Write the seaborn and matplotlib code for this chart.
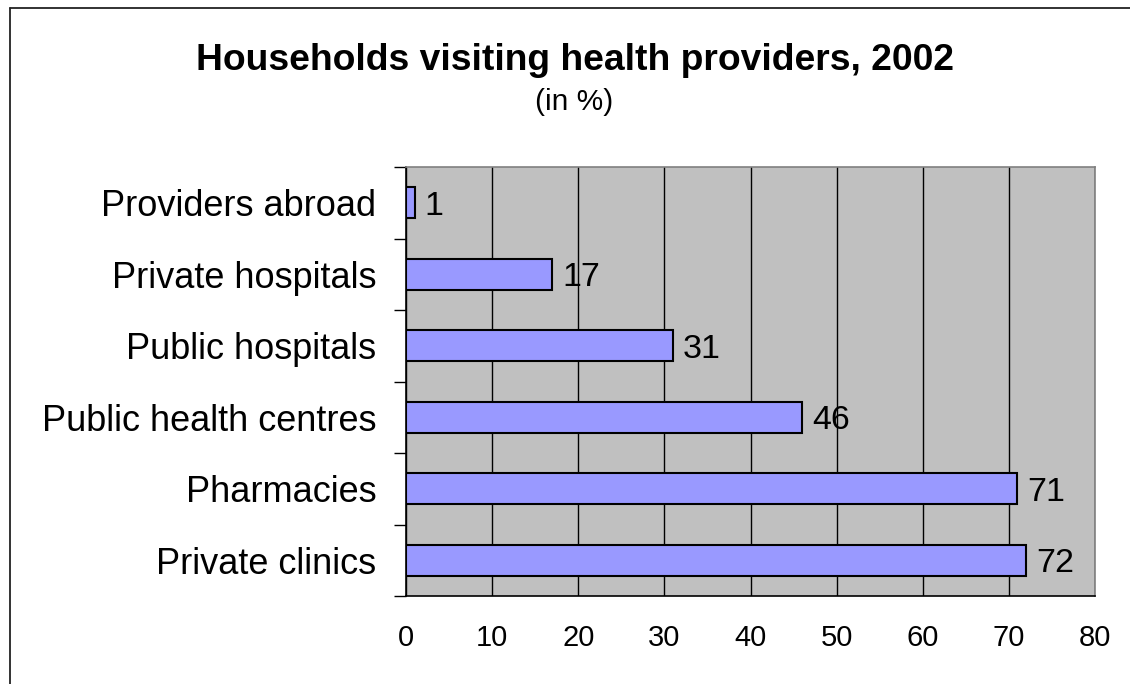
import matplotlib
matplotlib.use("Agg")
import matplotlib.pyplot as plt
from matplotlib.lines import Line2D
from matplotlib.ticker import FixedLocator, NullFormatter
import seaborn as sns
import pandas as pd

# Data
providers = ["Providers abroad", "Private hospitals", "Public hospitals",
             "Public health centres", "Pharmacies", "Private clinics"]
shares = [1, 17, 31, 46, 71, 72]
x_ticks = [0, 10, 20, 30, 40, 50, 60, 70, 80]

title_text = "Households visiting health providers, 2002"
subtitle_text = "(in %)"

sns.set_theme(style="white")
plt.rcParams["font.family"] = ["Liberation Sans", "DejaVu Sans"]

W, H = 1130, 684
fig = plt.figure(figsize=(W / 100, H / 100), dpi=100)
fig.patch.set_facecolor("white")

ax = fig.add_axes([406 / W, (H - 596) / H, (1095 - 406) / W, (596 - 167) / H])
ax.set_facecolor("#C0C0C0")

df = pd.DataFrame({"provider": providers, "share": shares})
sns.barplot(data=df, x="share", y="provider", orient="h", order=providers,
            color="#9999FF", saturation=1, width=0.435,
            edgecolor="black", linewidth=1.5, ax=ax, zorder=3)

ax.set_xlim(0, 80)
ax.set_ylim(len(providers) - 0.5, -0.5)
ax.set_xlabel("")
ax.set_ylabel("")

# vertical gridlines
ax.set_xticks(x_ticks)
ax.xaxis.grid(True, color="black", linewidth=1.0, zorder=1)
ax.set_axisbelow(True)

# spines
for side in ("top", "right"):
    ax.spines[side].set_color("#808080")
    ax.spines[side].set_linewidth(1.2)
for side in ("left", "bottom"):
    ax.spines[side].set_color("black")
    ax.spines[side].set_linewidth(1.2)

# ticks
ax.tick_params(axis="x", which="major", direction="out", length=6.5, width=1,
               color="black", pad=14, labelsize=21, labelcolor="black")
ax.tick_params(axis="y", which="major", length=0, pad=21.5,
               labelsize=26, labelcolor="black")
ax.yaxis.set_minor_locator(FixedLocator([i - 0.5 for i in range(len(providers) + 1)]))
ax.yaxis.set_minor_formatter(NullFormatter())
ax.tick_params(axis="y", which="minor", direction="out", length=8.6, width=1,
               color="black", left=True)

# value labels
for container in ax.containers:
    texts = ax.bar_label(container, labels=[str(v) for v in shares], padding=7,
                         fontsize=24.5, color="black")
    for t in texts:
        t.set_verticalalignment("center_baseline")

# titles
fig.text(575 / W, 1 - 70 / H, title_text, ha="center", va="baseline",
         fontsize=26.8, fontweight="bold", color="black")
fig.text(574 / W, 1 - 110 / H, subtitle_text, ha="center", va="baseline",
         fontsize=21.5, color="black")

# chart border
fig.add_artist(Line2D([10 / W, 10 / W], [1 - 8 / H, 0], transform=fig.transFigure,
                      color="#222222", linewidth=1.3))
fig.add_artist(Line2D([10 / W, 1], [1 - 8 / H, 1 - 8 / H], transform=fig.transFigure,
                      color="#222222", linewidth=1.3))

fig.savefig("out.png", dpi=100, facecolor="white")
